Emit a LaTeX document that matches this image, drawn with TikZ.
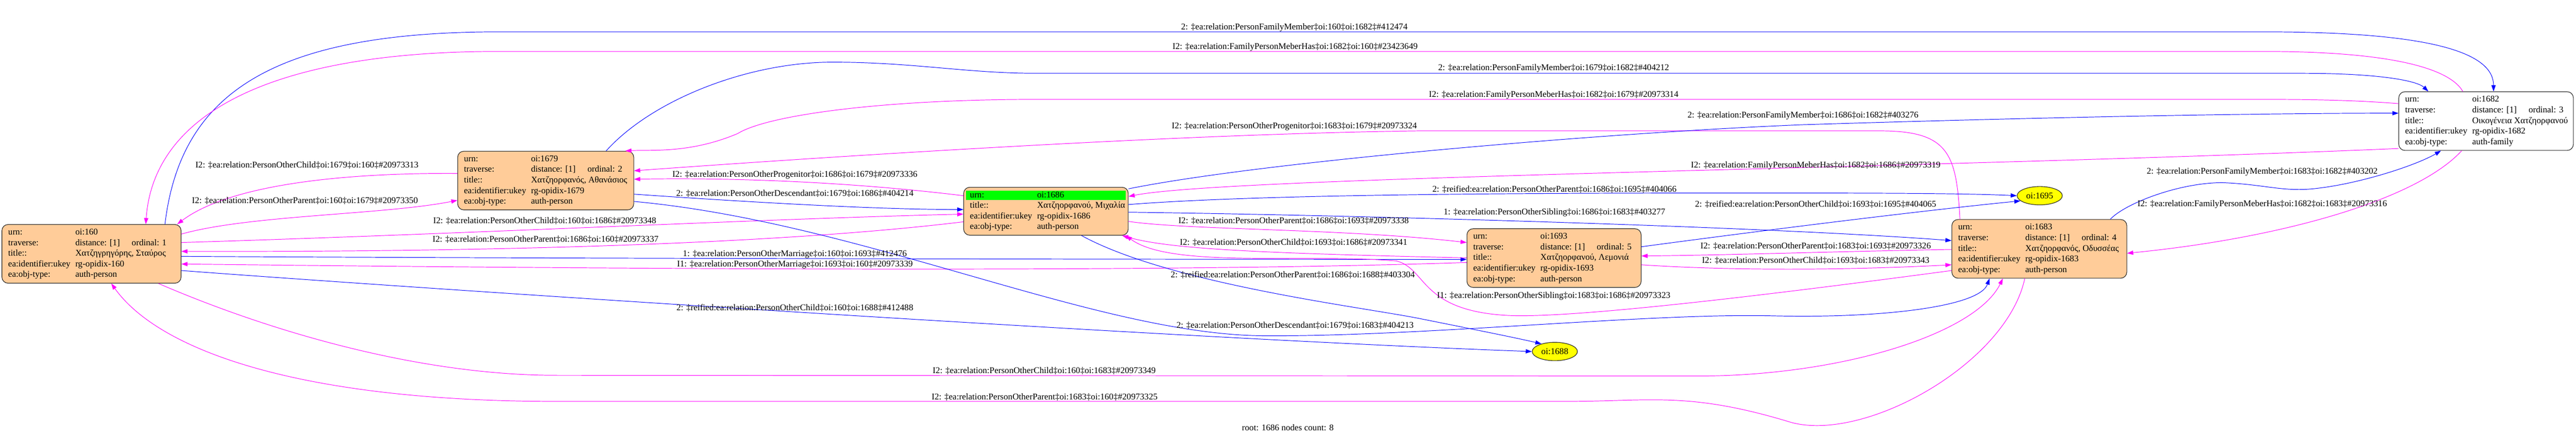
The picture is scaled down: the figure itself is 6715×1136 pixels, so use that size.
\documentclass[tikz,border=0pt]{standalone}
\usepackage{fontspec}
\setmainfont{Liberation Serif}
\usepackage{xcolor}
\definecolor{relblue}{HTML}{0000FF}
\definecolor{invpink}{HTML}{FF00FF}
\definecolor{recfill}{HTML}{FFCC99}
\definecolor{rootgreen}{HTML}{00FF00}
\definecolor{leafyellow}{HTML}{FFFF00}
\usepackage{tikz}
\usetikzlibrary{arrows.meta, shapes.geometric, positioning}
\newcommand{\spanval}[1]{\multicolumn{2}{@{}l@{}}{#1}}

\begin{document}
\begin{tikzpicture}[x=1pt, y=-1pt,
    font={\fontsize{23pt}{27.7pt}\selectfont},
    rec/.style={draw=black!85, line width=1.5pt, rounded corners=16pt, fill=recfill, inner sep=0pt},
    rectext/.style={anchor=west, inner sep=0pt},
    leaf/.style={ellipse, draw=black!85, line width=1.5pt, fill=leafyellow, inner sep=0pt, minimum width=118pt, minimum height=48pt},
    rel/.style={relblue, line width=1.3pt, -{Triangle[length=16pt,width=11pt]}},
    inv/.style={invpink, line width=1.3pt, -{Triangle[length=16pt,width=11pt]}},
    elabel/.style={inner sep=0pt}]
        \useasboundingbox (0,0) rectangle (6715,1136);

        % Record boxes
        \node[rec, minimum width=467pt, minimum height=153pt] (n160) at (238.5,661.5) {};
        \node[rectext] (t160) at ([xshift=17pt]n160.west) {\begin{tabular}{@{}p{175pt}@{}p{147pt}@{}l@{}}
            urn: & oi:160 & \\ traverse: & distance: [1] & ordinal: 1\\ title:: & \spanval{Χατζηγρηγόρης, Σταύρος}\\
            ea:identifier:ukey & \spanval{rg-opidix-160}\\ ea:obj-type: & \spanval{auth-person}\end{tabular}};

        \node[rec, minimum width=459pt, minimum height=153pt] (n1679) at (1422.5,470.5) {};
        \node[rectext] (t1679) at ([xshift=17pt]n1679.west) {\begin{tabular}{@{}p{175pt}@{}p{147pt}@{}l@{}}
            urn: & oi:1679 & \\ traverse: & distance: [1] & ordinal: 2\\ title:: & \spanval{Χατζηορφανός, Αθανάσιος}\\
            ea:identifier:ukey & \spanval{rg-opidix-1679}\\ ea:obj-type: & \spanval{auth-person}\end{tabular}};

        \node[rec, minimum width=429pt, minimum height=125pt] (n1686) at (2726.5,550.5) {};
        \fill[rootgreen] ([xshift=7pt,yshift=-9pt]n1686.north west) rectangle ([xshift=-7pt,yshift=-34pt]n1686.north east);
        \node[rectext] (t1686) at ([xshift=17pt]n1686.west) {\begin{tabular}{@{}p{175pt}@{}p{147pt}@{}l@{}}
            urn: & oi:1686 & \\ title:: & \spanval{Χατζηορφανού, Μιχαλία}\\
            ea:identifier:ukey & \spanval{rg-opidix-1686}\\ ea:obj-type: & \spanval{auth-person}\end{tabular}};

        \node[rec, minimum width=454pt, minimum height=153pt] (n1693) at (4051,672.5) {};
        \node[rectext] (t1693) at ([xshift=17pt]n1693.west) {\begin{tabular}{@{}p{175pt}@{}p{147pt}@{}l@{}}
            urn: & oi:1693 & \\ traverse: & distance: [1] & ordinal: 5\\ title:: & \spanval{Χατζηορφανού, Λεμονιά}\\
            ea:identifier:ukey & \spanval{rg-opidix-1693}\\ ea:obj-type: & \spanval{auth-person}\end{tabular}};

        \node[rec, minimum width=456pt, minimum height=153pt] (n1683) at (5316,648.5) {};
        \node[rectext] (t1683) at ([xshift=17pt]n1683.west) {\begin{tabular}{@{}p{175pt}@{}p{147pt}@{}l@{}}
            urn: & oi:1683 & \\ traverse: & distance: [1] & ordinal: 4\\ title:: & \spanval{Χατζηορφανός, Οδυσσέας}\\
            ea:identifier:ukey & \spanval{rg-opidix-1683}\\ ea:obj-type: & \spanval{auth-person}\end{tabular}};

        \node[rec, fill=white, minimum width=455pt, minimum height=153pt] (n1682) at (6480.5,315.5) {};
        \node[rectext] (t1682) at ([xshift=17pt]n1682.west) {\begin{tabular}{@{}p{175pt}@{}p{147pt}@{}l@{}}
            urn: & oi:1682 & \\ traverse: & distance: [1] & ordinal: 3\\ title:: & \spanval{Οικογένεια Χατζηορφανού}\\
            ea:identifier:ukey & \spanval{rg-opidix-1682}\\ ea:obj-type: & \spanval{auth-family}\end{tabular}};

        % Leaves
        \node[leaf] (n1695) at (5317,510) {oi:1695};
        \node[leaf] (n1688) at (4053,916) {oi:1688};

        % Edges to the family
        \draw[rel] (n160.north -| 430,0) .. controls (470,250) and (700,83) .. (1300,83) -- (5900,83) .. controls (6350,83) and (6500,140) .. (n1682.north -| 6500,0);
        \draw[inv] (n1682.north -| 6420,0) .. controls (6380,170) and (6200,134) .. (5900,134) -- (1300,134) .. controls (700,134) and (400,300) .. (n160.north -| 380,0);
        \draw[rel] (n1679.north -| 1580,0) .. controls (1700,260) and (1950,162) .. (2170,162) .. controls (2380,162) and (2520,191) .. (2700,191) -- (6000,191) .. controls (6200,191) and (6300,210) .. (n1682.north -| 6330,0);
        \draw[inv] (n1682.west |- 0,270) .. controls (6150,262) and (6050,259) .. (5900,259) -- (2700,259) .. controls (2300,259) and (2000,300) .. (1923,348) .. controls (1800,400) and (1700,390) .. (n1679.north -| 1630,0);
        \draw[inv] (n1683.north -| 5109,0) .. controls (5100,400) and (5080,341) .. (4900,341) -- (3700,341) .. controls (3000,350) and (2000,420) .. (n1679.east |- 0,445);
        \draw[rel] (n1686.east |- 0,492) .. controls (3300,420) and (4200,345) .. (4700,325) .. controls (5500,300) and (6000,295) .. (n1682.west |- 0,295);
        \draw[inv] (n1682.west |- 0,387) .. controls (5000,440) and (3200,460) .. (n1686.east |- 0,512);
        \draw[rel] (n1683.north -| 5501,0) .. controls (5540,530) and (5680,476) .. (5793,476) .. controls (5900,480) and (5950,500) .. (6029,492) .. controls (6150,480) and (6300,430) .. (n1682.south -| 6363,0);
        \draw[inv] (n1682.south -| 6417,0) .. controls (6300,520) and (5950,620) .. (n1683.east |- 0,660);

        % Edges between persons
        \draw[inv] (n1679.west |- 0,452) .. controls (900,450) and (600,480) .. (n160.north -| 462,0);
        \draw[inv] (n160.east |- 0,610) .. controls (650,560) and (1000,560) .. (n1679.west |- 0,522);
        \draw[rel] (n1679.east |- 0,506) .. controls (2000,530) and (2300,546) .. (n1686.west |- 0,546);
        \draw[inv] (n1686.west |- 0,510) .. controls (2250,478) and (1950,462) .. (n1679.east |- 0,467);
        \draw[inv] (n160.east |- 0,632) .. controls (1200,610) and (2000,570) .. (n1686.west |- 0,558);
        \draw[inv] (n1686.west |- 0,578) .. controls (2000,640) and (1200,657) .. (n160.east |- 0,655);
        \draw[rel] (n160.east |- 0,668) .. controls (1500,674) and (3000,676) .. (n1693.west |- 0,676);
        \draw[inv] (n1693.west |- 0,684) .. controls (3000,712) and (1500,700) .. (n160.east |- 0,688);
        \draw[rel] (n160.east |- 0,705) .. controls (1000,745) and (3000,880) .. (n1688.west);
        \draw[rel] (n1679.east |- 0,525) .. controls (2250,580) and (2850,870) .. (3291,875) .. controls (3700,878) and (4300,815) .. (4620,823) .. controls (4900,830) and (5160,800) .. (n1683.south -| 5186,0);
        \draw[rel] (n1686.south -| 2819,0) .. controls (3050,740) and (3550,800) .. (3700,830) .. controls (3850,860) and (3950,880) .. (n1688.150);
        \draw[rel] (n1686.east |- 0,533) .. controls (3300,505) and (4000,503) .. (4600,503) .. controls (5000,503) and (5150,505) .. (n1695.west);
        \draw[rel] (n1686.east |- 0,553) .. controls (3500,560) and (4600,590) .. (n1683.west |- 0,627);
        \draw[inv] (n1686.east |- 0,577) .. controls (3100,600) and (3500,595) .. (n1693.west |- 0,632);
        \draw[inv] (n1693.west |- 0,672) .. controls (3300,660) and (3050,650) .. (n1686.south -| 2925,0);
        \draw[inv] (n1683.west |- 0,705) .. controls (4600,770) and (4100,830) .. (3931,822) .. controls (3700,810) and (3720,700) .. (3640,680) .. controls (3400,660) and (3050,700) .. (n1686.south -| 2935,0);
        \draw[rel] (n1693.east |- 0,643) .. controls (4600,600) and (5000,550) .. (n1695.195);
        \draw[inv] (n1683.west |- 0,650) .. controls (4800,655) and (4500,665) .. (n1693.east |- 0,667);
        \draw[inv] (n1693.east |- 0,690) .. controls (4500,705) and (4800,705) .. (n1683.west |- 0,690);
        \draw[inv] (n160.south -| 413,0) .. controls (713,868) and (1100,978) .. (1450,978) -- (4422,980) .. controls (4800,980) and (5150,870) .. (n1683.south -| 5221,0);
        \draw[inv] (n1683.south -| 5278,0) .. controls (5230,950) and (4850,1160) .. (4660,1098) .. controls (4400,1020) and (4300,1046) .. (4085,1046) -- (1450,1046) .. controls (800,1046) and (420,920) .. (n160.south -| 290,0);

        % Edge labels
        \node[elabel] (lab1) at (3374,72) {2: ‡ea:relation:PersonFamilyMember‡oi:160‡oi:1682‡\#412474};
        \node[elabel] (lab2) at (3376,123) {I2: ‡ea:relation:FamilyPersonMeberHas‡oi:1682‡oi:160‡\#23423649};
        \node[elabel] (lab3) at (4050,178) {2: ‡ea:relation:PersonFamilyMember‡oi:1679‡oi:1682‡\#404212};
        \node[elabel] (lab4) at (4050,247) {I2: ‡ea:relation:FamilyPersonMeberHas‡oi:1682‡oi:1679‡\#20973314};
        \node[elabel] (lab5) at (3374,330) {I2: ‡ea:relation:PersonOtherProgenitor‡oi:1683‡oi:1679‡\#20973324};
        \node[elabel] (lab6) at (4700,302) {2: ‡ea:relation:PersonFamilyMember‡oi:1686‡oi:1682‡\#403276};
        \node[elabel] (lab7) at (4733,432) {I2: ‡ea:relation:FamilyPersonMeberHas‡oi:1682‡oi:1686‡\#20973319};
        \node[elabel] (lab8) at (4052,493) {2: ‡reified:ea:relation:PersonOtherParent‡oi:1686‡oi:1695‡\#404066};
        \node[elabel] (lab9) at (4733,533) {2: ‡reified:ea:relation:PersonOtherChild‡oi:1693‡oi:1695‡\#404065};
        \node[elabel] (lab10) at (4052,554) {1: ‡ea:relation:PersonOtherSibling‡oi:1686‡oi:1683‡\#403277};
        \node[elabel] (lab11) at (3372,575) {I2: ‡ea:relation:PersonOtherParent‡oi:1686‡oi:1693‡\#20973338};
        \node[elabel] (lab12) at (3372,632) {I2: ‡ea:relation:PersonOtherChild‡oi:1693‡oi:1686‡\#20973341};
        \node[elabel] (lab13) at (2072,505) {2: ‡ea:relation:PersonOtherDescendant‡oi:1679‡oi:1686‡\#404214};
        \node[elabel] (lab14) at (2072,456) {I2: ‡ea:relation:PersonOtherProgenitor‡oi:1686‡oi:1679‡\#20973336};
        \node[elabel] (lab15) at (1420,575) {I2: ‡ea:relation:PersonOtherChild‡oi:160‡oi:1686‡\#20973348};
        \node[elabel] (lab16) at (1422,624) {I2: ‡ea:relation:PersonOtherParent‡oi:1686‡oi:160‡\#20973337};
        \node[elabel] (lab17) at (2072,663) {1: ‡ea:relation:PersonOtherMarriage‡oi:160‡oi:1693‡\#412476};
        \node[elabel] (lab18) at (2072,690) {I1: ‡ea:relation:PersonOtherMarriage‡oi:1693‡oi:160‡\#20973339};
        \node[elabel] (lab21) at (2072,802) {2: ‡reified:ea:relation:PersonOtherChild‡oi:160‡oi:1688‡\#412488};
        \node[elabel] (lab22) at (3376,848) {2: ‡ea:relation:PersonOtherDescendant‡oi:1679‡oi:1683‡\#404213};
        \node[elabel] (lab23) at (3370,717) {2: ‡reified:ea:relation:PersonOtherParent‡oi:1686‡oi:1688‡\#403304};
        \node[elabel] (lab24) at (4050,771) {I1: ‡ea:relation:PersonOtherSibling‡oi:1683‡oi:1686‡\#20973323};
        \node[elabel] (lab25) at (4733,642) {I2: ‡ea:relation:PersonOtherParent‡oi:1683‡oi:1693‡\#20973326};
        \node[elabel] (lab26) at (4733,679) {I2: ‡ea:relation:PersonOtherChild‡oi:1693‡oi:1683‡\#20973343};
        \node[elabel] (lab27) at (2722,967) {I2: ‡ea:relation:PersonOtherChild‡oi:160‡oi:1683‡\#20973349};
        \node[elabel] (lab28) at (2723,1035) {I2: ‡ea:relation:PersonOtherParent‡oi:1683‡oi:160‡\#20973325};
        \node[elabel] (lab29) at (800,430) {I2: ‡ea:relation:PersonOtherChild‡oi:1679‡oi:160‡\#20973313};
        \node[elabel] (lab30) at (795,523) {I2: ‡ea:relation:PersonOtherParent‡oi:160‡oi:1679‡\#20973350};
        \node[elabel] (lab31) at (5897,448) {2: ‡ea:relation:PersonFamilyMember‡oi:1683‡oi:1682‡\#403202};
        \node[elabel] (lab32) at (5897,533) {I2: ‡ea:relation:FamilyPersonMeberHas‡oi:1682‡oi:1683‡\#20973316};

        % Caption
        \node[elabel] (caption) at (3357,1114) {root: 1686 nodes count: 8};
    \end{tikzpicture}
\end{document}
